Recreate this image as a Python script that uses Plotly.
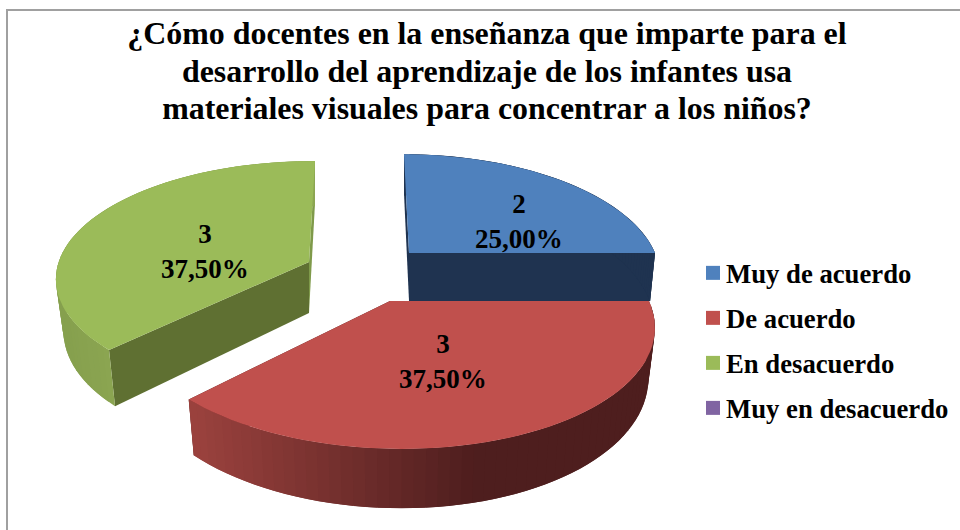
import math
import plotly.graph_objects as go

TITLE_LINES = [
    "¿Cómo docentes en la enseñanza que imparte para el",
    "desarrollo del aprendizaje de los infantes usa",
    "materiales visuales para concentrar a los niños?",
]
CATEGORIES = ["Muy de acuerdo", "De acuerdo", "En desacuerdo", "Muy en desacuerdo"]
VALUES = [2, 3, 3, 0]
TOP_COLORS = ["#4f81bd", "#c0504d", "#9bbb59", "#8064a2"]

FONT = "Liberation Serif"

# Projection of each exploded wedge onto the page (a tilted, perspective 3-D pie).
PROJ = {
    "Muy de acuerdo": dict(ax=409, ay=253, A=246, B=116, Sx=5.9, Sy=0, k=0.175, D=48, z=0.98,
                           edge0="#1f3350", edge1="#1f3350"),
    "De acuerdo": dict(ax=390, ay=301, A=259, B=122, Sx=9.6, Sy=0, k=0.175, D=49, z=0.975,
                       edge0="#4b1e1e", edge1="#4b1e1e"),
    "En desacuerdo": dict(ax=309, ay=262, A=250, B=114, Sx=-6.8, Sy=1, k=0.13, D=51, z=0.97,
                          edge0="#5f7032", edge1="#7f9a4a"),
}
LABEL_AT = {
    "Muy de acuerdo": (519, 221),
    "De acuerdo": (443, 361),
    "En desacuerdo": (205, 251),
}


def top(p, th):
    X, Y = math.sin(th), -math.cos(th)
    s = 1 / (1 - p["k"] * Y)
    return p["ax"] + (p["A"] * X + p["Sx"] * Y) * s, p["ay"] + (p["B"] * Y + p["Sy"] * X) * s, s


def low(p, th):
    x, y, s = top(p, th)
    return p["ax"] + (x - p["ax"]) * p["z"], y + p["D"] * s


def wall_color(cat, x):
    if cat == "De acuerdo":
        t = min(max((x - 190) / 280, 0), 1)
        a, b = (155, 66, 62), (78, 30, 30)
        return "rgb(%d,%d,%d)" % tuple(a[i] + (b[i] - a[i]) * t for i in range(3))
    if cat == "En desacuerdo":
        t = min(max((x - 60) / 50, 0), 1)
        a, b = (134, 160, 78), (140, 166, 82)
        return "rgb(%d,%d,%d)" % tuple(a[i] + (b[i] - a[i]) * t for i in range(3))
    return "#1f3350"


fig = go.Figure()


def poly(xs, ys, color, name):
    fig.add_trace(go.Scatter(
        x=xs + xs[:1], y=ys + ys[:1], mode="lines", fill="toself", fillcolor=color,
        line=dict(width=0), hoverinfo="skip", showlegend=False, name=name,
    ))


total = sum(VALUES)
angles = {}
acc = 0.0
for cat, v in zip(CATEGORIES, VALUES):
    angles[cat] = (acc, acc + v / total * 2 * math.pi)
    acc += v / total * 2 * math.pi

for cat in ["En desacuerdo", "Muy de acuerdo", "De acuerdo"]:
    p = PROJ[cat]
    t0, t1 = angles[cat]
    color = TOP_COLORS[CATEGORIES.index(cat)]
    n = 60
    ths = [t0 + (t1 - t0) * i / n for i in range(n + 1)]
    # the two cut faces
    for th, col in ((t0, p["edge0"]), (t1, p["edge1"])):
        x, y, _ = top(p, th)
        xl, yl = low(p, th)
        poly([p["ax"], x, xl, p["ax"]], [p["ay"], y, yl, p["ay"] + p["D"]], col, cat)
    # outer rim, in overlapping strips so that it can carry the shading
    for i in range(n):
        a, b = ths[i], ths[min(i + 2, n)]
        xa, ya, _ = top(p, a)
        xb, yb, _ = top(p, b)
        xc, yc = low(p, b)
        xd, yd = low(p, a)
        poly([xa, xb, xc, xd], [ya, yb, yc, yd], wall_color(cat, (xa + xb) / 2), cat)
    # top face
    pts = [top(p, t) for t in ths]
    poly([p["ax"]] + [q[0] for q in pts], [p["ay"]] + [q[1] for q in pts], color, cat)

for cat, color in zip(CATEGORIES, TOP_COLORS):
    fig.add_trace(go.Scatter(
        x=[None], y=[None], mode="markers", name=cat, legendgroup=cat,
        marker=dict(symbol="square", size=14, color=color),
    ))

for cat, v in zip(CATEGORIES, VALUES):
    if v == 0:
        continue
    lx, ly = LABEL_AT[cat]
    pct = f"{v / total * 100:.2f}".replace(".", ",")
    fig.add_annotation(x=lx, y=ly, text=f"<b>{v}<br>{pct}%</b>", showarrow=False,
                       font=dict(family=FONT, size=27, color="#000000"), align="center")

fig.add_shape(type="rect", x0=7, y0=10, x1=1000, y1=600,
              line=dict(color="#a0a0a0", width=2), fillcolor="rgba(0,0,0,0)", layer="below")

title_html = "<br>".join(f'<span style="font-size:31.9px"><b>{t}</b></span>' for t in TITLE_LINES)

fig.update_layout(
    width=960, height=530,
    margin=dict(l=0, r=0, t=0, b=0),
    paper_bgcolor="#ffffff", plot_bgcolor="#ffffff",
    title=dict(text=title_html,
               x=487 / 960, xanchor="center", y=1 - 44 / 530, yanchor="top",
               font=dict(family=FONT, size=29, color="#000000")),
    xaxis=dict(range=[0, 960], visible=False, fixedrange=True),
    yaxis=dict(range=[530, 0], visible=False, fixedrange=True),
    legend=dict(x=686 / 960, xanchor="left", y=1 - 249 / 530, yanchor="top",
                font=dict(family=FONT, size=26.7, color="#000000", weight="bold"),
                tracegroupgap=7.3, bgcolor="rgba(0,0,0,0)", itemclick=False, itemdoubleclick=False),
    showlegend=True,
)

fig.write_html(
    "out.html", config={"displayModeBar": False},
    post_script=(
        "document.body.style.margin='0';"
        "document.querySelectorAll('.legendsymbols').forEach(function(e){"
        "e.setAttribute('transform','translate(7,0)');});"
    ),
)
